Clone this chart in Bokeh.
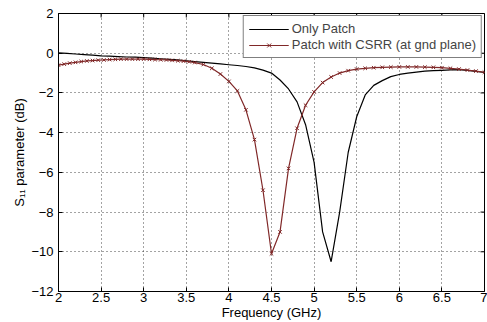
import math
from bokeh.plotting import figure
from bokeh.models import FixedTicker, Legend, LegendItem
from bokeh.embed import file_html
from bokeh.resources import INLINE

# Only Patch (black)
freq_patch = [2.0, 2.1, 2.2, 2.3, 2.4, 2.5, 2.6, 2.7, 2.8, 2.9, 3.0, 3.1, 3.2, 3.3, 3.4,
              3.5, 3.6, 3.7, 3.8, 3.9, 4.0, 4.1, 4.2, 4.3, 4.4, 4.5, 4.6, 4.7, 4.8, 4.9,
              5.0, 5.1, 5.2, 5.3, 5.4, 5.5, 5.6, 5.7, 5.8, 5.9, 6.0, 6.1, 6.2, 6.3, 6.4,
              6.5, 6.6, 6.7, 6.8, 6.9, 7.0]
s11_patch = [0.02, -0.01, -0.04, -0.07, -0.1, -0.13, -0.15, -0.17, -0.19, -0.2, -0.22, -0.25, -0.28, -0.31, -0.34,
             -0.38, -0.42, -0.46, -0.5, -0.54, -0.58, -0.62, -0.67, -0.74, -0.85, -1.0, -1.35, -1.8, -2.45, -3.6,
             -5.5, -9.0, -10.5, -8.0, -5.0, -3.2, -2.1, -1.62, -1.38, -1.18, -1.07, -1.0, -0.95, -0.9, -0.88,
             -0.86, -0.84, -0.83, -0.86, -0.91, -0.97]

# Patch with CSRR (red, x markers)
freq_csrr = [2.0, 2.067, 2.133, 2.2, 2.267, 2.333, 2.4, 2.467, 2.533, 2.6, 2.667, 2.733, 2.8,
             2.867, 2.933, 3.0, 3.067, 3.133, 3.2, 3.267, 3.333, 3.4, 3.467, 3.533, 3.6,
             3.7, 3.8, 3.9, 4.0, 4.1, 4.2, 4.3, 4.4, 4.5, 4.6, 4.7, 4.8, 4.9, 5.0, 5.1,
             5.2, 5.3, 5.4, 5.5, 5.6, 5.7, 5.8, 5.9, 6.0, 6.1, 6.2, 6.3, 6.4, 6.5, 6.6,
             6.7, 6.8, 6.9, 7.0]
s11_csrr = [-0.6, -0.55, -0.5, -0.46, -0.42, -0.39, -0.37, -0.35, -0.34, -0.32, -0.31, -0.3, -0.3,
            -0.3, -0.3, -0.3, -0.31, -0.32, -0.33, -0.34, -0.36, -0.38, -0.4, -0.43, -0.47,
            -0.57, -0.76, -1.05, -1.42, -1.9, -2.85, -4.35, -6.9, -10.1, -9.0, -5.8, -3.78, -2.62, -1.95, -1.48,
            -1.2, -1.0, -0.88, -0.8, -0.76, -0.73, -0.71, -0.7, -0.69, -0.69, -0.69, -0.7, -0.71, -0.73, -0.76,
            -0.8, -0.85, -0.9, -0.96]

x_ticks = [2, 2.5, 3, 3.5, 4, 4.5, 5, 5.5, 6, 6.5, 7]
y_ticks = [-12, -10, -8, -6, -4, -2, 0, 2]
series_names = ["Only Patch", "Patch with CSRR (at gnd plane)"]
x_label = "Frequency (GHz)"
y_label = "S\u2081\u2081 parameter (dB)"

FONT = "Liberation Sans"
RED = "#802828"

p = figure(width=487, height=322, x_range=(2, 7), y_range=(-12, 2),
           output_backend="svg", toolbar_location=None,
           min_border_left=58, min_border_right=3, min_border_top=13, min_border_bottom=31)
p.background_fill_color = "white"
p.border_fill_color = "white"
p.outline_line_color = "black"
p.outline_line_width = 1

l1 = p.line(freq_patch, s11_patch, line_color="black", line_width=1.2)
l2 = p.line(freq_csrr, s11_csrr, line_color=RED, line_width=1.2)
m2 = p.scatter(freq_csrr, s11_csrr, marker="x", size=5, line_color=RED, line_width=1)

# inner tick marks on top and right edges (half outside the frame is clipped)
p.scatter(x_ticks, [y_ticks[-1]] * len(x_ticks), marker="dash", angle=math.pi / 2,
          size=8, line_color="black", line_width=1)
p.scatter([x_ticks[-1]] * len(y_ticks), y_ticks, marker="dash",
          size=8, line_color="black", line_width=1)

for ax in (p.xaxis[0], p.yaxis[0]):
    ax.major_tick_in = 4
    ax.major_tick_out = 0
    ax.minor_tick_in = 0
    ax.minor_tick_out = 0
    ax.axis_line_color = "black"
    ax.major_tick_line_color = "black"
    ax.major_label_text_font = FONT
    ax.major_label_text_font_size = "13px"
    ax.major_label_text_color = "black"
    ax.axis_label_text_font = FONT
    ax.axis_label_text_font_size = "13px"
    ax.axis_label_text_font_style = "normal"
    ax.axis_label_text_color = "black"

p.xaxis[0].ticker = FixedTicker(ticks=x_ticks)
p.yaxis[0].ticker = FixedTicker(ticks=y_ticks)
p.xaxis[0].axis_label = x_label
p.yaxis[0].axis_label = y_label
p.xaxis[0].major_label_standoff = 1
p.xaxis[0].axis_label_standoff = 0
p.yaxis[0].major_label_standoff = 5
p.yaxis[0].axis_label_standoff = 1

p.xgrid.ticker = FixedTicker(ticks=x_ticks)
p.ygrid.ticker = FixedTicker(ticks=y_ticks)
for g in (p.xgrid[0], p.ygrid[0]):
    g.grid_line_color = "#333333"
    g.grid_line_dash = "1 3"
    g.grid_line_width = 1
    g.grid_line_alpha = 0.9

legend = Legend(items=[LegendItem(label=series_names[0], renderers=[l1]),
                       LegendItem(label=series_names[1], renderers=[l2, m2])],
                location="top_right")
legend.margin = 2
legend.padding = 5
legend.spacing = 1
legend.glyph_width = 40
legend.glyph_height = 14
legend.label_height = 14
legend.label_standoff = 3
legend.label_text_font = FONT
legend.label_text_font_size = "13px"
legend.border_line_color = "black"
legend.border_line_width = 1
legend.background_fill_alpha = 1
legend.background_fill_color = "white"
p.add_layout(legend)

open("out.html", "w").write(file_html(p, INLINE))
